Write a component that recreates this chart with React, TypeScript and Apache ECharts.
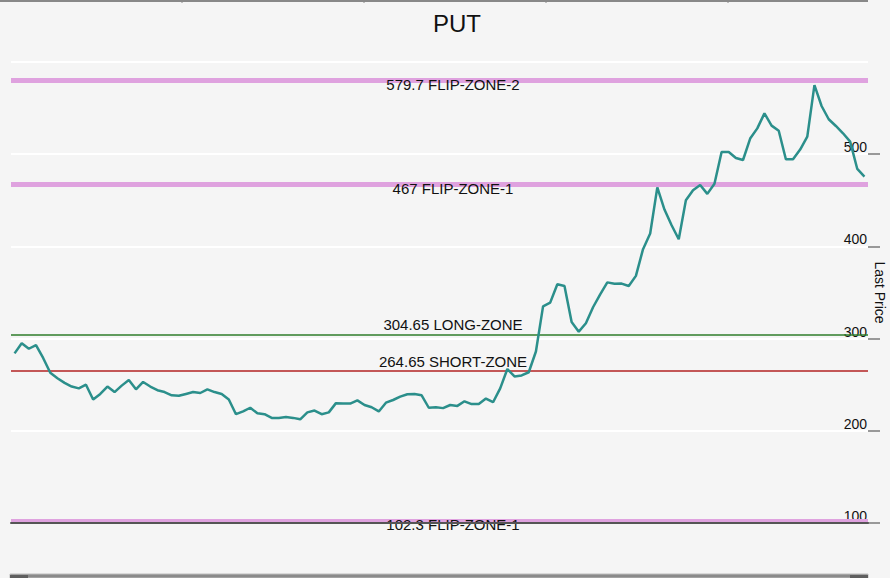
import React, { useEffect, useRef } from "react";
import * as echarts from "echarts";

// ---- data ----
const lastPrice: number[] = [
  284, 295, 289, 293, 279, 263, 257, 252, 248, 246,
  250, 234, 240, 248, 242, 249, 255, 245, 253, 248,
  244, 242, 238.5, 238, 240, 242, 241, 245, 242, 240,
  234, 218, 221, 225, 219, 218, 214, 214, 215, 214,
  212.5, 220, 222, 218, 220, 230, 229.5, 229.5, 233, 228,
  225.5, 221, 230.5, 233.4, 237, 239.6, 240, 238.5, 225, 225.5,
  224.6, 228, 227, 232, 229, 229, 235, 231, 246, 267,
  259, 260, 263.5, 286, 335, 339, 359, 357, 318, 307.5,
  316.6, 334, 348, 361, 359.4, 359.7, 357, 368, 397, 414,
  464, 440, 423, 407.7, 450, 461, 466.6, 457, 468, 502.4,
  502.4, 495.9, 493.7, 517, 528, 544.3, 531, 525.5, 494.5, 494.5,
  505, 519, 575, 552.3, 537.9, 530.6, 522.7, 513.6, 484, 475.7,
];
const categories: string[] = lastPrice.map((_, i) => String(i + 1));

const levelValues: number[] = [579.7, 467, 304.65, 264.65, 102.3];
const levelNames: string[] = ["FLIP-ZONE-2", "FLIP-ZONE-1", "LONG-ZONE", "SHORT-ZONE", "FLIP-ZONE-1"];
const levelColors: string[] = ["#dfa2df", "#dfa2df", "#2e7d2a", "#b22222", "#dfa2df"];
const levelWidths: number[] = [5, 5, 1.5, 1.5, 5];
const levelAbove: boolean[] = [false, false, true, true, false];

const yMin = 100;
const yMax = 600;
const yInterval = 100;

const topTicks: number[] = [182, 364, 546, 728];

const FONT = "'Liberation Sans', Arial, sans-serif";

export default function App() {
  const ref = useRef<HTMLDivElement>(null);

  useEffect(() => {
    if (!ref.current) return;
    const chart = echarts.init(ref.current, undefined, { renderer: "svg" });

    const markData = levelValues.map((v, i) => ({
      yAxis: v,
      lineStyle: { color: levelColors[i], width: levelWidths[i], type: "solid" },
      label: {
        show: true,
        position: "middle",
        distance: levelAbove[i] ? 2 : -11.5,
        formatter: `${v} ${levelNames[i]}`,
        fontSize: 15,
        fontFamily: FONT,
        color: "#111",
        padding: [0, 0, 0, 27],
      },
    }));

    const option: any = {
      animation: false,
      backgroundColor: "#f5f5f5",
      textStyle: { fontFamily: FONT },
      title: {
        text: "PUT",
        left: 428,
        top: 6,
        textStyle: { fontSize: 24, fontWeight: "normal", color: "#111", fontFamily: FONT },
      },
      grid: { left: 11, right: 22, top: 62, bottom: 55, outerBoundsMode: "none", containLabel: false },
      xAxis: {
        type: "category",
        data: categories,
        boundaryGap: true,
        z: 6,
        axisLine: { show: true, lineStyle: { color: "#555", width: 2 } },
        axisTick: { show: false },
        axisLabel: { show: false },
        splitLine: { show: false },
      },
      yAxis: {
        type: "value",
        position: "right",
        min: yMin,
        max: yMax,
        interval: yInterval,
        name: "Last Price",
        nameLocation: "middle",
        nameRotate: -90,
        nameGap: 5,
        nameMoveOverlap: false,
        nameTextStyle: { fontSize: 14, color: "#111", fontFamily: FONT },
        axisLine: { show: false },
        axisTick: { show: true, inside: false, length: 12, lineStyle: { color: "#999", width: 2 } },
        axisLabel: {
          inside: true,
          margin: 1,
          verticalAlign: "bottom",
          showMaxLabel: false,
          fontSize: 14,
          color: "#111",
          fontFamily: FONT,
        },
        splitLine: { show: true, lineStyle: { color: "#ffffff", width: 2 } },
      },
      series: [
        {
          type: "line",
          name: "levels",
          data: [],
          z: 1,
          silent: true,
          markLine: {
            silent: true,
            symbol: ["none", "none"],
            data: markData,
          },
        },
        {
          type: "line",
          name: "Last Price",
          data: lastPrice,
          z: 5,
          showSymbol: false,
          symbol: "none",
          lineStyle: { color: "#2b8f8b", width: 2.5 },
          itemStyle: { color: "#2b8f8b" },
        },
      ],
      graphic: [
        { type: "line", shape: { x1: 0, y1: 1, x2: 868, y2: 1 }, style: { stroke: "#888", lineWidth: 2 } },
        ...topTicks.map((x) => ({
          type: "line",
          shape: { x1: x, y1: 0, x2: x, y2: 3 },
          style: { stroke: "#888", lineWidth: 1 },
        })),
        { type: "rect", shape: { x: 10, y: 574, width: 858, height: 4 }, style: { fill: "#8a8a8a", stroke: "#bdbdbd", lineWidth: 1 } },
        { type: "rect", shape: { x: 10, y: 575, width: 18, height: 3 }, style: { fill: "#5f5f5f" } },
        { type: "rect", shape: { x: 850, y: 575, width: 18, height: 3 }, style: { fill: "#5f5f5f" } },
      ],
    };

    chart.setOption(option);
    return () => chart.dispose();
  }, []);

  return (
    <div
      ref={ref}
      style={{ position: "fixed", left: 0, top: 0, width: 890, height: 578 }}
    />
  );
}
